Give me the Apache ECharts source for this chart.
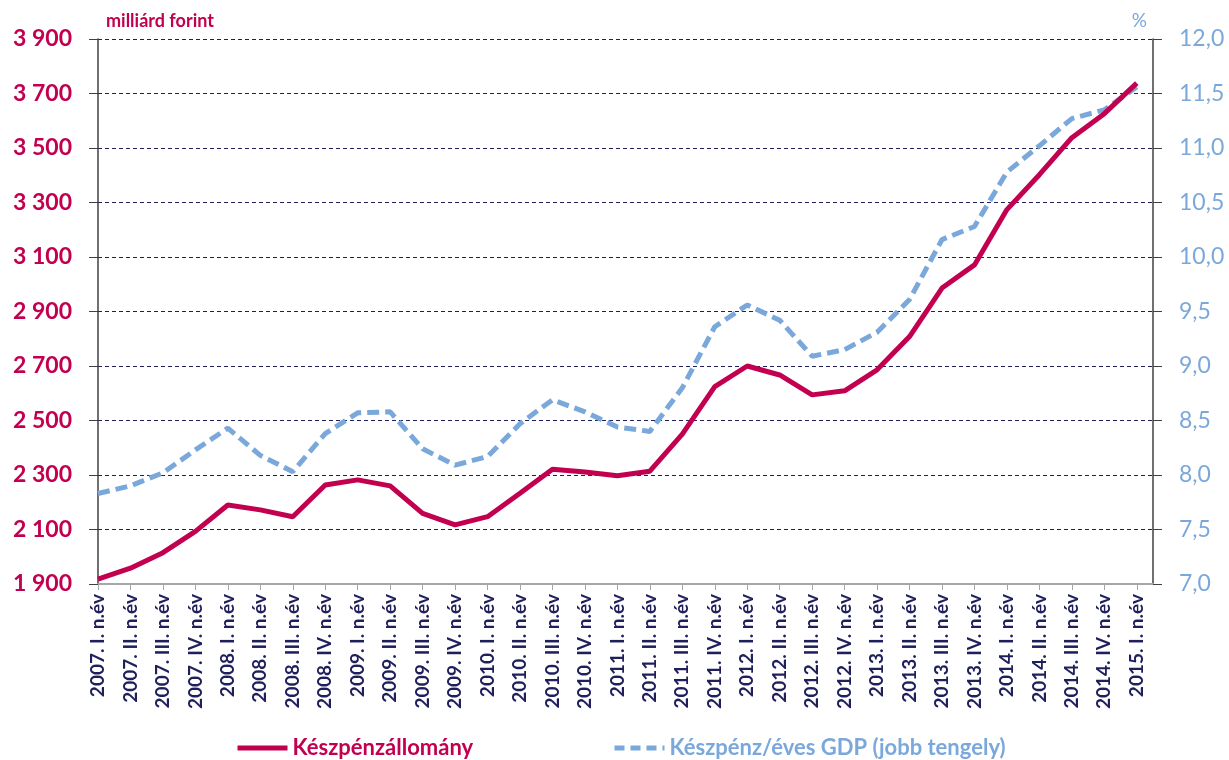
<head>
	<meta charset="utf-8">
	<title>Készpénzállomány</title>
	<script src="https://cdn.jsdelivr.net/npm/echarts@6/dist/echarts.min.js"></script>
	<style>
		html, body { margin: 0; padding: 0; background: #fff; }
		#chart { width: 1229px; height: 760px; }
	</style>
</head>
<body>
<div id="chart"></div>

<script>
	// negyedévek
	var quarters = [
		'2007. I. n.év', '2007. II. n.év', '2007. III. n.év', '2007. IV. n.év',
		'2008. I. n.év', '2008. II. n.év', '2008. III. n.év', '2008. IV. n.év',
		'2009. I. n.év', '2009. II. n.év', '2009. III. n.év', '2009. IV. n.év',
		'2010. I. n.év', '2010. II. n.év', '2010. III. n.év', '2010. IV. n.év',
		'2011. I. n.év', '2011. II. n.év', '2011. III. n.év', '2011. IV. n.év',
		'2012. I. n.év', '2012. II. n.év', '2012. III. n.év', '2012. IV. n.év',
		'2013. I. n.év', '2013. II. n.év', '2013. III. n.év', '2013. IV. n.év',
		'2014. I. n.év', '2014. II. n.év', '2014. III. n.év', '2014. IV. n.év',
		'2015. I. n.év'
	];
	// milliárd forint
	var cash = [
		1918, 1958, 2015, 2093, 2190, 2172, 2147, 2263,
		2282, 2260, 2159, 2117, 2147, 2233, 2321, 2311,
		2297, 2314, 2450, 2624, 2700, 2667, 2594, 2609,
		2686, 2808, 2986, 3071, 3274, 3402, 3538, 3626,
		3738
	];
	// %, jobb tengely
	var cashGdp = [
		7.83, 7.90, 8.02, 8.23, 8.43, 8.18, 8.03, 8.38,
		8.57, 8.58, 8.24, 8.09, 8.17, 8.47, 8.69, 8.58,
		8.44, 8.40, 8.80, 9.36, 9.56, 9.42, 9.09, 9.15,
		9.31, 9.61, 10.16, 10.28, 10.78, 11.02, 11.27, 11.35,
		11.56
	];
	var leftTicks = { min: 1900, max: 3900, step: 200 };
	var rightTicks = { min: 7, max: 12, step: 0.5 };

	var RED = '#c2004f';
	var BLUE = '#7ba8da';
	var NAVY = '#1f1f5c';
	var FONT = 'Lato, "Open Sans", sans-serif';

	var chart = echarts.init(document.getElementById('chart'));

	function fmtLeft(v) {
		var s = String(v);
		return s.length > 3 ? s.slice(0, s.length - 3) + ' ' + s.slice(-3) : s;
	}
	function fmtRight(v) {
		return v.toFixed(1).replace('.', ',');
	}

	var option = {
		animation: false,
		grid: { left: 98, right: 76, top: 39, bottom: 176 },
		legend: [
			{
				data: ['Készpénzállomány'],
				left: 230, top: 732,
				itemWidth: 50, itemHeight: 10, itemGap: 6,
				itemStyle: { opacity: 0 },
				lineStyle: { width: 5 },
				textStyle: { color: RED, fontSize: 22, fontWeight: 'bold', fontFamily: FONT }
			},
			{
				data: ['Készpénz/éves GDP (jobb tengely)'],
				left: 607, top: 732,
				itemWidth: 50, itemHeight: 10, itemGap: 4,
				itemStyle: { opacity: 0 },
				lineStyle: { width: 5, type: [10, 6] },
				textStyle: { color: BLUE, fontSize: 22, fontWeight: 'bold', fontFamily: FONT }
			}
		],
		xAxis: {
			type: 'value',
			min: 0,
			max: quarters.length - 0.5,
			interval: 1,
			splitLine: { show: false },
			axisLine: { lineStyle: { color: '#a6a6a6', width: 2 } },
			axisTick: { show: true, length: 6, lineStyle: { color: '#a6a6a6', width: 1 } },
			axisLabel: {
				rotate: 90,
				margin: 10,
				color: NAVY,
				fontSize: 19,
				fontWeight: 'bold',
				fontFamily: FONT,
				showMaxLabel: false,
				formatter: function (v) { return quarters[v] || ''; }
			}
		},
		yAxis: [
			{
				type: 'value',
				min: leftTicks.min,
				max: leftTicks.max,
				interval: leftTicks.step,
				name: 'milliárd forint',
				nameLocation: 'end',
				nameGap: 9,
				nameTextStyle: { color: RED, fontSize: 18, fontWeight: 'bold', fontFamily: FONT, align: 'left', padding: [0, 0, 0, 8] },
				axisLine: { show: true, lineStyle: { color: '#404040', width: 1.5 } },
				axisTick: { show: true, length: 9, lineStyle: { color: '#404040' } },
				axisLabel: { color: RED, fontSize: 23, fontWeight: 'bold', fontFamily: FONT, margin: 26, formatter: fmtLeft },
				splitLine: { show: true, lineStyle: { color: NAVY, type: [4, 3], width: 1 } }
			},
			{
				type: 'value',
				min: rightTicks.min,
				max: rightTicks.max,
				interval: rightTicks.step,
				name: '%',
				nameLocation: 'end',
				nameGap: 9,
				nameTextStyle: { color: BLUE, fontSize: 19, fontFamily: FONT, align: 'right', padding: [0, 6, 0, 0] },
				axisLine: { show: true, lineStyle: { color: '#404040', width: 1.5 } },
				axisTick: { show: true, length: 9, lineStyle: { color: '#404040' } },
				axisLabel: { color: BLUE, fontSize: 23, fontFamily: FONT, margin: 26, formatter: fmtRight },
				splitLine: { show: false }
			}
		],
		series: [
			{
				name: 'Készpénzállomány',
				type: 'line',
				yAxisIndex: 0,
				symbol: 'none',
				data: cash.map(function (v, i) { return [i, v]; }),
				lineStyle: { color: RED, width: 5 },
				itemStyle: { color: RED },
				z: 3
			},
			{
				name: 'Készpénz/éves GDP (jobb tengely)',
				type: 'line',
				yAxisIndex: 1,
				symbol: 'none',
				data: cashGdp.map(function (v, i) { return [i, v]; }),
				lineStyle: { color: BLUE, width: 5, type: [12, 6] },
				itemStyle: { color: BLUE },
				z: 2
			}
		]
	};
	chart.setOption(option);
</script>
</body>
